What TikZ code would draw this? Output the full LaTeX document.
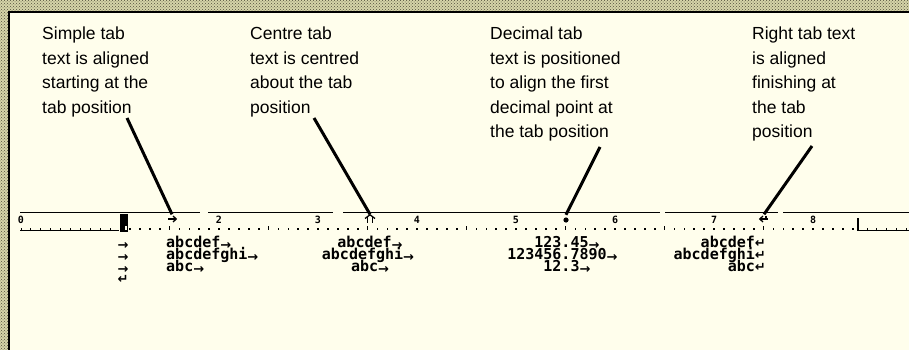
\documentclass[tikz,border=0pt]{standalone}
\usepackage{fontspec}
\setmainfont{Liberation Sans}
\newfontfamily\monofont{DejaVu Sans Mono}
\newfontfamily\symfont{DejaVu Sans}
\usetikzlibrary{patterns}
\definecolor{paper}{RGB}{255,254,236}
\definecolor{felt}{RGB}{214,212,168}
\definecolor{feltdot}{RGB}{80,80,60}
% tab arrow that trails a tabbed field
\newcommand{\tabarrow}{\raisebox{-2pt}{\symfont\bfseries\fontsize{13}{13}\selectfont →}}
\newcommand{\retmark}{{\symfont\bfseries\fontsize{13}{13}\selectfont ↵}}
\tikzset{
  note/.style={anchor=north west, inner sep=0pt, align=left,
               font=\fontsize{17.5}{24.5}\selectfont},
  row/.style={inner sep=0pt, font=\monofont\bfseries\fontsize{15}{15}\selectfont},
  rulenum/.style={inner sep=0pt, font=\monofont\bfseries\fontsize{10}{10}\selectfont},
  marker/.style={inner sep=0pt, minimum width=9pt, minimum height=9pt},
  pointer/.style={line width=3pt},
  rulerline/.style={line width=1.2pt},
  glyph/.style={line width=1.3pt},
}
\begin{document}
\begin{tikzpicture}[x=1pt,y=-1pt]
\useasboundingbox (0,0) rectangle (909,350);
% patterned desktop and the window panel
\fill[felt] (0,0) rectangle (909,350);
\fill[pattern=crosshatch dots, pattern color=feltdot] (0,0) rectangle (909,350);
\fill[paper] (9,12) rectangle (909,350);
\draw[line width=2.6pt] (9,350) -- (9,12) -- (909,12);

% explanatory notes
\node[note] (n1) at (42,27) {Simple tab\\text is aligned\\starting at the\\tab position};
\node[note] (n2) at (250,27) {Centre tab\\text is centred\\about the tab\\position};
\node[note] (n3) at (490,27) {Decimal tab\\text is positioned\\to align the first\\decimal point at\\the tab position};
\node[note] (n4) at (752,27) {Right tab text\\is aligned\\finishing at\\the tab\\position};

% ruler: top rule with gaps
\draw[rulerline] (20,212.5) -- (200,212.5);
\draw[rulerline] (208,212.5) -- (333,212.5);
\draw[rulerline] (343,212.5) -- (660,212.5);
\draw[rulerline] (665,212.5) -- (778,212.5);
\draw[rulerline] (783,212.5) -- (909,212.5);

% inch numbers
\foreach \i in {0,2,3,4,5,6,7,8}
  \node[rulenum] (num\i) at (21+99*\i,219.5) {\i};

% left margin stretch
\draw[line width=1.5pt] (20,230.5) -- (119,230.5);
\foreach \k in {0,...,9}
  \draw[line width=1pt] (21+9.9*\k,231) -- (21+9.9*\k,227.5);
\fill (120,214) rectangle (127.5,231.5);
\fill[paper] (124.5,226) rectangle (126.5,230);

% dotted tenths between the margins
\foreach \k in {11,...,84}{
  \pgfmathtruncatemacro{\m}{mod(\k,10)}
  \ifnum\m=5
    \fill (20.2+9.9*\k,225.5) rectangle (21.9+9.9*\k,230);
  \else
    \fill (20.2+9.9*\k,228.2) rectangle (21.9+9.9*\k,229.9);
  \fi
}

% right margin stretch
\draw[line width=1.3pt] (858,218) -- (858,231);
\draw[line width=1.5pt] (858,230.5) -- (909,230.5);
\foreach \k in {0,...,4}
  \draw[line width=1pt] (867+9.9*\k,231) -- (867+9.9*\k,227.5);

% tab stop markers
\node[marker] (t1) at (172,219) {};
\node[marker] (t2) at (370,219) {};
\node[marker] (t3) at (566,219.5) {};
\node[marker] (t4) at (764,219) {};
% left tab: right-pointing arrow
\draw[glyph] (168,219) -- (176,219);
\draw[glyph] (173,216) -- (176.2,219) -- (173,222);
% centre tab: twin stems under a chevron
\draw[glyph] (367.5,216) -- (367.5,223);
\draw[glyph] (372.5,216) -- (372.5,223);
\draw[glyph] (365,218.5) -- (370,214.8) -- (375,218.5);
% decimal tab: a dot
\fill (566,220) circle (2.6pt);
% right tab: left-pointing arrow
\draw[glyph] (760,219) -- (768,219);
\draw[glyph] (763,216) -- (759.8,219) -- (763,222);
\draw[glyph] (766,215.5) -- (766,219);

% pointers from notes to tab stops
\coordinate (s1) at (127,118);
\coordinate (s2) at (314,118);
\coordinate (s3) at (600,147);
\coordinate (s4) at (812,146);
\draw[pointer] (s1) -- (t1.north);
\draw[pointer] (s2) -- (t2.north);
\draw[pointer] (s3) -- (t3.north);
\draw[pointer] (s4) -- (t4.north);

% leading tab characters
\node[row, anchor=base] (l1) at (123,247) {\tabarrow};
\node[row, anchor=base] (l2) at (123,259) {\tabarrow};
\node[row, anchor=base] (l3) at (123,271) {\tabarrow};
\node[row, anchor=base] (l4) at (123,283) {\retmark};

% left-aligned column
\node[row, anchor=base west] (a1) at (166,247) {abcdef\tabarrow};
\node[row, anchor=base west] (a2) at (166,259) {abcdefghi\tabarrow};
\node[row, anchor=base west] (a3) at (166,271) {abc\tabarrow};

% centred column
\node[row, anchor=base] (b1) at (370,247) {abcdef\tabarrow};
\node[row, anchor=base] (b2) at (368,259) {abcdefghi\tabarrow};
\node[row, anchor=base] (b3) at (370,271) {abc\tabarrow};

% decimal column, aligned on the point
\node[row, anchor=base] (c1) at (566,247) {\llap{123}.\rlap{45\tabarrow}};
\node[row, anchor=base] (c2) at (566,259) {\llap{123456}.\rlap{7890\tabarrow}};
\node[row, anchor=base] (c3) at (566,271) {\llap{12}.\rlap{3\tabarrow}};

% right-aligned column
\node[row, anchor=base east] (d1) at (766,247) {abcdef\retmark};
\node[row, anchor=base east] (d2) at (766,259) {abcdefghi\retmark};
\node[row, anchor=base east] (d3) at (766,271) {abc\retmark};
\end{tikzpicture}
\end{document}
